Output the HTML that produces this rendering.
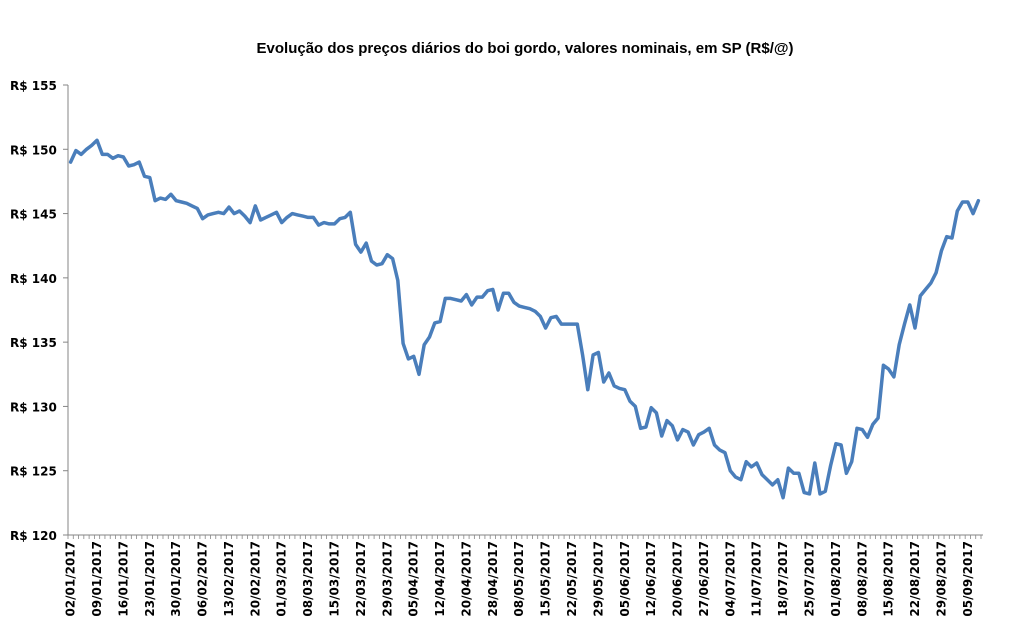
<!DOCTYPE html>
<html><head><meta charset="utf-8"><style>
body{margin:0;background:#fff;}
svg text{font-family:"DejaVu Sans","Liberation Sans",sans-serif;}
</style></head><body>
<svg id="chart" width="1012" height="631" viewBox="0 0 1012 631" xmlns="http://www.w3.org/2000/svg">
<text x="525" y="53" text-anchor="middle" font-size="15" font-weight="bold" fill="#000" style="font-family:'Liberation Sans',sans-serif">Evolução dos preços diários do boi gordo, valores nominais, em SP (R$/@)</text>
<g id="yaxis"></g>
<g id="xaxis"></g>
<g id="series"></g>
</svg>
<script>
const prices=[149.0,149.9,149.6,150.0,150.3,150.7,149.6,149.6,149.3,149.5,149.4,148.7,148.8,149.0,147.9,147.8,146.0,146.2,146.1,146.5,146.0,145.9,145.8,145.6,145.4,144.6,144.9,145.0,145.1,145.0,145.5,145.0,145.2,144.8,144.3,145.6,144.5,144.7,144.9,145.1,144.3,144.7,145.0,144.9,144.8,144.7,144.7,144.1,144.3,144.2,144.2,144.6,144.7,145.1,142.6,142.0,142.7,141.3,141.0,141.1,
141.8,141.5,139.8,134.9,133.7,133.9,132.5,134.8,135.4,136.5,136.6,138.4,138.4,138.3,138.2,138.7,137.9,138.5,138.5,139.0,139.1,137.5,138.8,138.8,138.1,137.8,137.7,137.6,137.4,137.0,136.1,136.9,137.0,136.4,136.4,136.4,136.4,134.0,131.3,134.0,134.2,131.9,132.6,131.6,131.4,131.3,130.4,
130.0,128.3,128.4,129.9,129.5,127.7,128.9,128.5,127.4,128.2,128.0,127.0,127.8,128.0,128.3,127.0,126.6,126.4,125.0,124.5,124.3,125.7,125.3,125.6,124.7,124.3,123.9,124.3,122.9,125.2,124.8,124.8,123.3,123.2,125.6,123.2,123.4,125.4,127.1,127.0,124.8,125.7,128.3,128.2,127.6,128.6,129.1,133.2,132.9,132.3,134.8,136.4,137.9,136.1,138.6,139.1,139.6,140.4,142.1,143.2,143.1,145.2,145.9,145.9,145.0,146.0];
const xLabels=["02/01/2017","09/01/2017","16/01/2017","23/01/2017","30/01/2017","06/02/2017","13/02/2017","20/02/2017","01/03/2017","08/03/2017","15/03/2017","22/03/2017","29/03/2017","05/04/2017","12/04/2017","20/04/2017","28/04/2017","08/05/2017","15/05/2017","22/05/2017","29/05/2017","05/06/2017","12/06/2017","20/06/2017","27/06/2017","04/07/2017","11/07/2017","18/07/2017","25/07/2017","01/08/2017","08/08/2017","15/08/2017","22/08/2017","29/08/2017","05/09/2017"];
const yTicks=[120,125,130,135,140,145,150,155];
const NS="http://www.w3.org/2000/svg";
const X0=68,X1=981,Y0=535,Y1=85,YMIN=120,YMAX=155;
const step=(X1-X0)/prices.length;
const xPos=i=>X0+step*(i+0.5);
const yPos=v=>Y0-(v-YMIN)/(YMAX-YMIN)*(Y0-Y1);
function mk(tag,attrs,parent){const e=document.createElementNS(NS,tag);for(const k in attrs)e.setAttribute(k,attrs[k]);parent.appendChild(e);return e;}
const ya=document.getElementById('yaxis'),xa=document.getElementById('xaxis'),sg=document.getElementById('series');
const yl=mk('line',{x1:X0,y1:Y1,x2:X0,y2:Y0,stroke:'#868686','stroke-width':1},ya);


yTicks.forEach(v=>{
  const t=mk('line',{x1:X0-5,y1:yPos(v),x2:X0,y2:yPos(v),stroke:'#868686'},ya);
  
  
  const tx=mk('text',{x:10,y:yPos(v)+5,'font-size':12,'font-weight':'bold',fill:'#000'},ya);
  tx.textContent='R$ '+v;
  
  
});
const xl=mk('line',{x1:X0,y1:Y0,x2:X1+2,y2:Y0,stroke:'#868686'},xa);


for(let i=0;i<=prices.length;i++){
  const x=X0+step*i;
  const t=mk('line',{x1:x,y1:Y0,x2:x,y2:Y0+4,stroke:'#868686','stroke-width':0.8},xa);
  
  
}
xLabels.forEach((s,j)=>{
  const x=xPos(j*5)+4;
  const tx=mk('text',{x:x,y:541,'font-size':12,'font-weight':'bold',fill:'#000','text-anchor':'end',transform:`rotate(-90 ${x} 541)`},xa);
  tx.textContent=s;
  
  
});
const d=prices.map((v,i)=>(i?'L':'M')+xPos(i).toFixed(1)+' '+yPos(v).toFixed(1)).join(' ');
const p=mk('path',{d:d,fill:'none',stroke:'#4a7ebb','stroke-width':3.5,'stroke-linejoin':'round','stroke-linecap':'round'},sg);


</script>
</body></html>
